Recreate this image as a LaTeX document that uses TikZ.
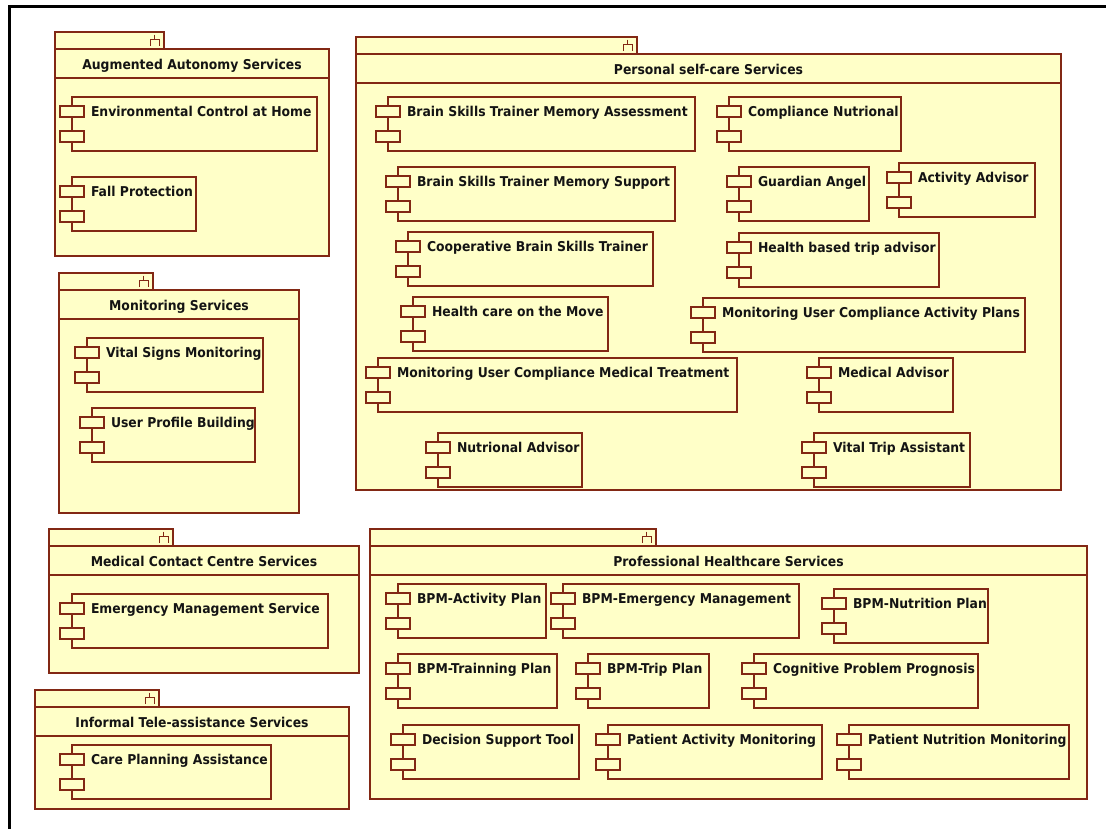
\documentclass[tikz,border=0pt]{standalone}
\usepackage{fontspec}
\setmainfont{DejaVu Sans}[FakeStretch=0.915]
\usetikzlibrary{calc}

\definecolor{pkgfill}{HTML}{FFFFC8}
\definecolor{pkgline}{RGB}{130,40,20}
\definecolor{inktext}{HTML}{141414}

\tikzset{
  umlline/.style={draw=pkgline, line width=1.2bp},
  pkgshape/.style={umlline, fill=pkgfill},
  compbody/.style={pkgshape, rectangle, inner sep=0pt, outer sep=0pt,
                   minimum height=54bp},
  compport/.style={pkgshape, rectangle, inner sep=0pt, outer sep=0pt,
                   minimum width=24bp, minimum height=11bp},
  umltext/.style={text=inktext, inner sep=0pt, outer sep=0pt,
                  font=\fontsize{13.6}{15}\selectfont\bfseries},
}

% UML component: name, left, top, width, label
\newcommand\umlcomp[5]{%
  \node[compbody, minimum width=#4bp, anchor=north west] (#1) at (#2,#3) {};
  \node[compport, anchor=north west] (#1-p1) at ($(#1.north west)+(-12,9)$) {};
  \node[compport, anchor=north west] (#1-p2) at ($(#1.north west)+(-12,34)$) {};
  \node[umltext, anchor=base west] (#1-t) at ($(#1.north west)+(19,19)$) {#5};
}

% UML package: name, left, tab right, tab top, right, bottom, title
\newcommand\umlpkg[7]{%
  \pgfmathsetmacro\pkgboxtop{#4+17}
  \pgfmathsetmacro\pkghead{#4+46}
  \pgfmathsetmacro\pkgmid{(#2+#5)/2}
  \draw[pkgshape] (#2,#4) rectangle (#3,\pkgboxtop);
  \draw[pkgshape] (#2,\pkgboxtop) rectangle (#5,#6);
  \draw[umlline] (#2,\pkghead) -- (#5,\pkghead);
  \node[umltext, anchor=base] (#1) at (\pkgmid,{#4+37}) {#7};
  % subsystem fork mark on the tab
  \draw[umlline, line width=1bp] ({#3-9.5},{#4+2.5}) -- ({#3-9.5},{#4+7.5})
        ({#3-14},{#4+14}) -- ({#3-14},{#4+7.5}) -- ({#3-5},{#4+7.5}) -- ({#3-5},{#4+14});
}

\begin{document}
\begin{tikzpicture}[x=1bp,y=-1bp]
\useasboundingbox (0,0) rectangle (1106,829);
\fill[white] (0,0) rectangle (1106,829);
\begin{scope}
  \clip (0,0) rectangle (1106,829);
  \draw[black, line width=2.8bp] (9.5,6.2) rectangle (1130,850);
\end{scope}

% ---- Augmented Autonomy Services
\umlpkg{aug}{55}{164}{32}{329}{256}{Augmented Autonomy Services}
\umlcomp{envctl}{72}{97}{245}{Environmental Control at Home}
\umlcomp{fall}{72}{177}{124}{Fall Protection}

% ---- Monitoring Services
\umlpkg{mon}{59}{153}{273}{299}{513}{Monitoring Services}
\umlcomp{vital}{87}{338}{176}{Vital Signs Monitoring}
\umlcomp{profile}{92}{408}{163}{User Profile Building}

% ---- Personal self-care Services
\umlpkg{psc}{356}{637}{37}{1061}{490}{Personal self-care Services}
\umlcomp{bstma}{388}{97}{307}{Brain Skills Trainer Memory Assessment}
\umlcomp{bstms}{398}{167}{277}{Brain Skills Trainer Memory Support}
\umlcomp{cbst}{408}{232}{245}{Cooperative Brain Skills Trainer}
\umlcomp{hcmove}{413}{297}{195}{Health care on the Move}
\umlcomp{mucmt}{378}{358}{359}{Monitoring User Compliance Medical Treatment}
\umlcomp{nutadv}{438}{433}{144}{Nutrional Advisor}
\umlcomp{compnut}{729}{97}{172}{Compliance Nutrional}
\umlcomp{guard}{739}{167}{130}{Guardian Angel}
\umlcomp{actadv}{899}{163}{136}{Activity Advisor}
\umlcomp{trip}{739}{233}{200}{Health based trip advisor}
\umlcomp{mucap}{703}{298}{322}{Monitoring User Compliance Activity Plans}
\umlcomp{medadv}{819}{358}{134}{Medical Advisor}
\umlcomp{vta}{814}{433}{156}{Vital Trip Assistant}

% ---- Medical Contact Centre Services
\umlpkg{mcc}{49}{173}{529}{359}{673}{Medical Contact Centre Services}
\umlcomp{ems}{72}{594}{256}{Emergency Management Service}

% ---- Informal Tele-assistance Services
\umlpkg{ita}{35}{159}{690}{349}{809}{Informal Tele-assistance Services}
\umlcomp{cpa}{72}{745}{199}{Care Planning Assistance}

% ---- Professional Healthcare Services
\umlpkg{phs}{370}{656}{529}{1087}{799}{Professional Healthcare Services}
\umlcomp{bpmact}{398}{584}{148}{BPM-Activity Plan}
\umlcomp{bpmem}{563}{584}{236}{BPM-Emergency Management}
\umlcomp{bpmnut}{834}{589}{154}{BPM-Nutrition Plan}
\umlcomp{bpmtrain}{398}{654}{159}{BPM-Trainning Plan}
\umlcomp{bpmtrip}{588}{654}{121}{BPM-Trip Plan}
\umlcomp{cpp}{754}{654}{224}{Cognitive Problem Prognosis}
\umlcomp{dst}{403}{725}{176}{Decision Support Tool}
\umlcomp{pam}{608}{725}{214}{Patient Activity Monitoring}
\umlcomp{pnm}{849}{725}{220}{Patient Nutrition Monitoring}
\end{tikzpicture}
\end{document}
